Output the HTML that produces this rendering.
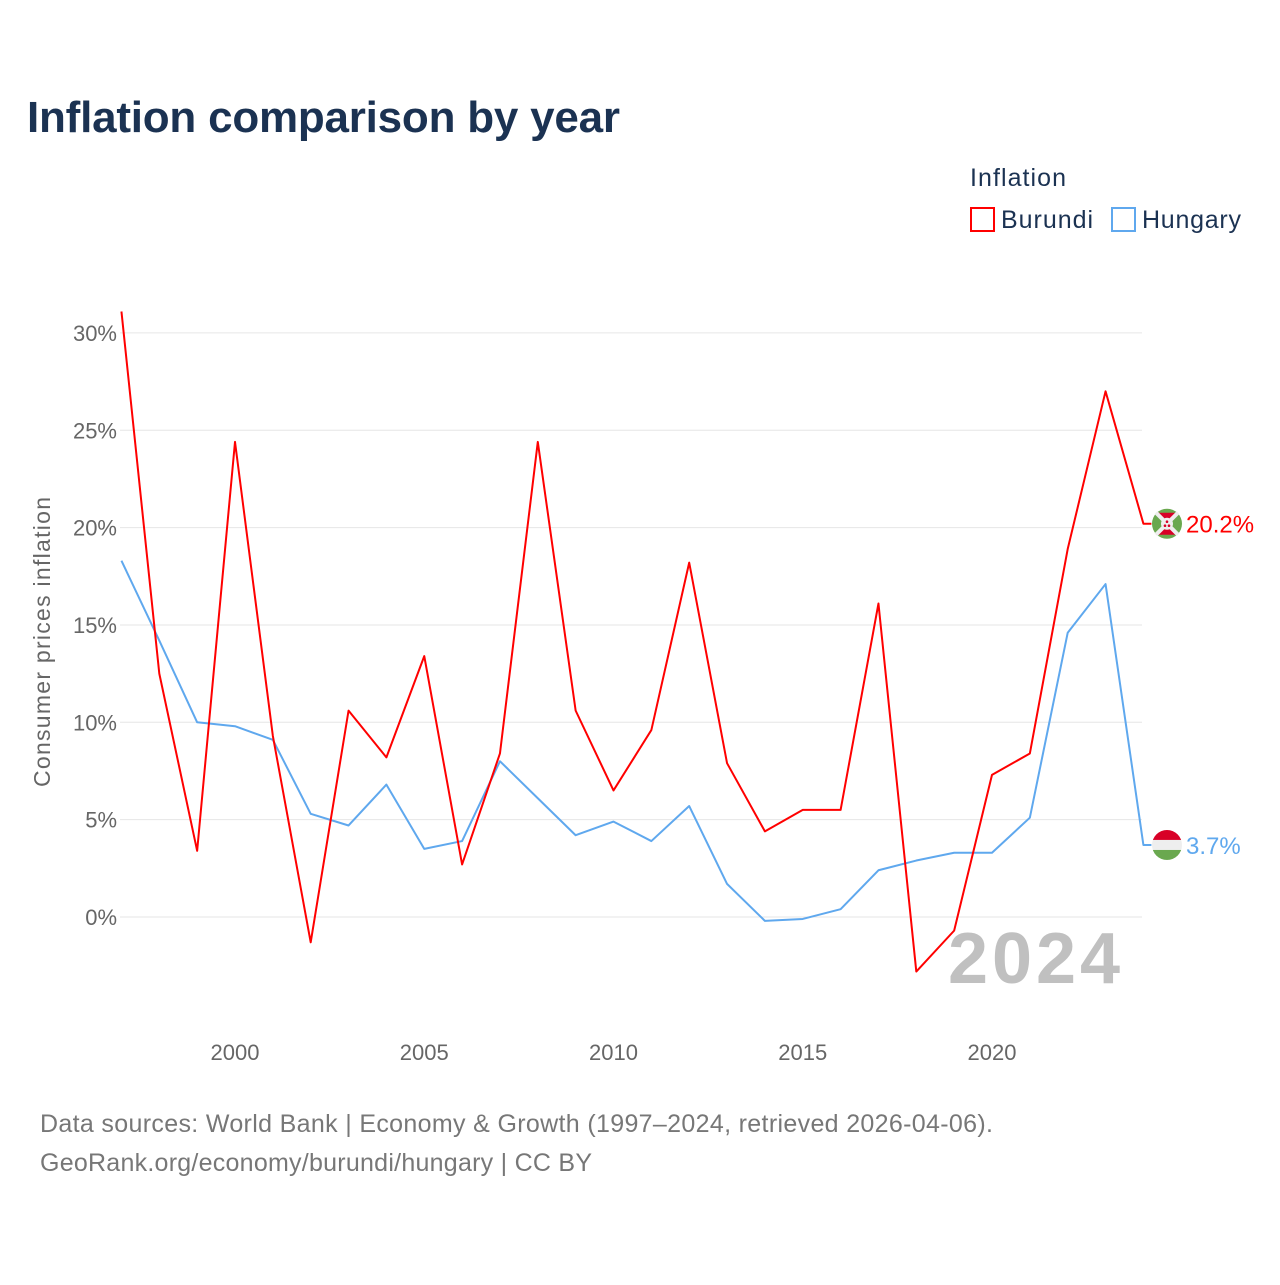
<!DOCTYPE html>
<html><head><meta charset="utf-8"><style>
body{margin:0;background:#fff;font-family:"Liberation Sans",sans-serif}
svg text{font-family:"Liberation Sans",sans-serif}
</style></head><body>
<svg width="1280" height="1280" viewBox="0 0 1280 1280">
<text x="27" y="132" font-size="44" font-weight="bold" fill="#1b3252" textLength="593">Inflation comparison by year</text>
<text x="970" y="186" font-size="25" fill="#1b3252" textLength="96">Inflation</text>
<g><rect x="971" y="208" width="23" height="23" fill="none" stroke="#f00" stroke-width="2"/><text x="1001" y="228" font-size="25" fill="#1b3252" textLength="92">Burundi</text></g>
<g><rect x="1112" y="208" width="23" height="23" fill="none" stroke="#5fa8ee" stroke-width="2"/><text x="1142" y="228" font-size="25" fill="#1b3252" textLength="99">Hungary</text></g>
<g id="grid"></g><g id="yt"></g><g id="xt"></g>
<text transform="translate(50,642) rotate(-90)" text-anchor="middle" font-size="23" fill="#666" textLength="290">Consumer prices inflation</text>
<text x="1120" y="983" text-anchor="end" font-size="72" font-weight="bold" fill="#c0c0c0" textLength="172">2024</text>
<g id="series"></g>
<text x="40" y="1132" font-size="25" fill="#777" textLength="953">Data sources: World Bank | Economy &amp; Growth (1997–2024, retrieved 2026-04-06).</text>
<text x="40" y="1171" font-size="25" fill="#777" textLength="552">GeoRank.org/economy/burundi/hungary | CC BY</text>
</svg>
<script>
const years=[1997,1998,1999,2000,2001,2002,2003,2004,2005,2006,2007,2008,2009,2010,2011,2012,2013,2014,2015,2016,2017,2018,2019,2020,2021,2022,2023,2024];
const burundi=[31.1,12.5,3.4,24.4,9.3,-1.3,10.6,8.2,13.4,2.7,8.4,24.4,10.6,6.5,9.6,18.2,7.9,4.4,5.5,5.5,16.1,-2.8,-0.7,7.3,8.4,18.9,27.0,20.2];
const hungary=[18.3,14.2,10.0,9.8,9.1,5.3,4.7,6.8,3.5,3.9,8.0,6.1,4.2,4.9,3.9,5.7,1.7,-0.2,-0.1,0.4,2.4,2.9,3.3,3.3,5.1,14.6,17.1,3.7];
const yTicks=[0,5,10,15,20,25,30];
const xTicks=[2000,2005,2010,2015,2020];
const NS='http://www.w3.org/2000/svg';
const X=y=>235+(y-2000)*37.85;
const Y=v=>917-v*19.47;
function mk(t,a,p){const e=document.createElementNS(NS,t);for(const k in a)e.setAttribute(k,a[k]);p.appendChild(e);return e;}
const g=document.getElementById('grid'),yt=document.getElementById('yt'),xt=document.getElementById('xt'),s=document.getElementById('series');
yTicks.forEach(v=>{
 const l=mk('line',{x1:120,x2:1142,y1:Y(v),y2:Y(v),stroke:'#e6e6e6','stroke-width':1},g);
 
 
 const t=mk('text',{x:117,y:Y(v)+8,'text-anchor':'end','font-size':22,fill:'#666'},yt);
 t.textContent=v+'%';
 
 
});
xTicks.forEach(v=>{
 const t=mk('text',{x:X(v),y:1060,'text-anchor':'middle','font-size':22,fill:'#666'},xt);
 t.textContent=v;
 
 
});
function series(vals,col,name,flag){
 const last=vals[vals.length-1];
 let d=vals.map((v,i)=>(i?'L':'M')+X(years[i])+' '+Y(v)).join(' ')+' L'+(X(years[years.length-1])+8)+' '+Y(last);
 const p=mk('path',{d:d,fill:'none',stroke:col,'stroke-width':2,'stroke-linejoin':'round'},s);
 
 
 const cx=1167,cy=Y(last);
 const fg=mk('g',{},s);
 
 
 if(flag==='bi'){
  mk('circle',{cx:cx,cy:cy,r:15,fill:'#6aa84f'},fg);
  mk('path',{d:`M${cx-11} ${cy-11} L${cx+11} ${cy-11} L${cx} ${cy} Z M${cx-11} ${cy+11} L${cx+11} ${cy+11} L${cx} ${cy} Z`,fill:'#d80027'},fg);
  mk('line',{x1:cx-11,y1:cy-11,x2:cx+11,y2:cy+11,stroke:'#eee','stroke-width':4},fg);
  mk('line',{x1:cx+11,y1:cy-11,x2:cx-11,y2:cy+11,stroke:'#eee','stroke-width':4},fg);
  mk('circle',{cx:cx,cy:cy,r:6,fill:'#eee'},fg);
  mk('circle',{cx:cx,cy:cy-2,r:1.3,fill:'#d80027'},fg);
  mk('circle',{cx:cx-2,cy:cy+2,r:1.3,fill:'#d80027'},fg);
  mk('circle',{cx:cx+2,cy:cy+2,r:1.3,fill:'#d80027'},fg);
 }else{
  const cp=mk('clipPath',{id:'hc'},fg);mk('circle',{cx:cx,cy:cy,r:15},cp);
  mk('rect',{x:cx-15,y:cy-15,width:30,height:10,fill:'#d80027','clip-path':'url(#hc)'},fg);
  mk('rect',{x:cx-15,y:cy-5,width:30,height:10,fill:'#eee','clip-path':'url(#hc)'},fg);
  mk('rect',{x:cx-15,y:cy+5,width:30,height:10,fill:'#6aa84f','clip-path':'url(#hc)'},fg);
 }
 const t=mk('text',{x:1186,y:cy+9,'font-size':24,fill:col},s);
 t.textContent=last.toFixed(1)+'%';
 
 
}
series(hungary,'#5fa8ee','hungary','hu');
series(burundi,'#ff0000','burundi','bi');
</script>
</body></html>
